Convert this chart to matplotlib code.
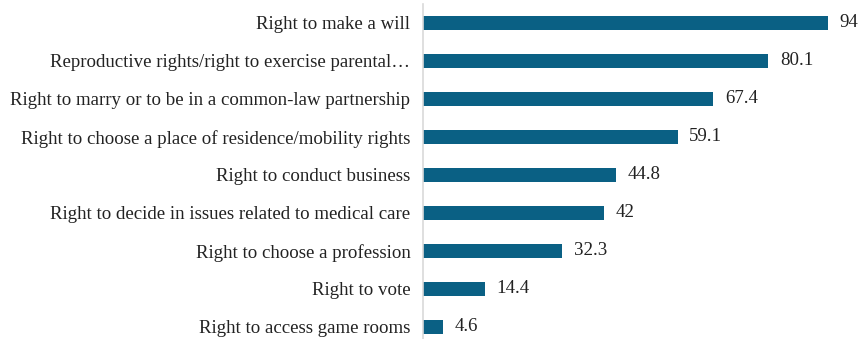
import matplotlib.pyplot as plt

plt.rcParams['font.family'] = ['Liberation Serif', 'DejaVu Serif']

rights = [
    "Right to make a will",
    "Reproductive rights/right to exercise parental\u2026",
    "Right to marry or to be in a common-law partnership",
    "Right to choose a place of residence/mobility rights",
    "Right to conduct business",
    "Right to decide in issues related to medical care",
    "Right to choose a profession",
    "Right to vote",
    "Right to access game rooms",
]
shares = [94, 80.1, 67.4, 59.1, 44.8, 42, 32.3, 14.4, 4.6]
share_labels = ["94", "80.1", "67.4", "59.1", "44.8", "42", "32.3", "14.4", "4.6"]

fig = plt.figure(figsize=(8.65, 3.39), dpi=100)
ax = fig.add_axes([423 / 865, 0, 431 / 865, 335 / 339])

pos = list(range(len(rights)))
ax.barh(pos, shares, height=0.37, color="#0a6084")
for p, v, s in zip(pos, shares, share_labels):
    ax.text(v + 2.7, p, s, va="center", ha="left", fontsize=13.6, color="#222222")

ax.set_xlim(0, 100)
ax.set_ylim(8.316, -0.5)
ax.set_yticks(pos)
ax.set_yticklabels(rights, fontsize=13.6, color="#222222")
ax.tick_params(axis="y", length=0, pad=9)
ax.set_xticks([])
for side in ["top", "right", "bottom"]:
    ax.spines[side].set_visible(False)
ax.spines["left"].set_color("#d9d9d9")
ax.spines["left"].set_linewidth(1.2)

fig.savefig("out.png", dpi=100)
